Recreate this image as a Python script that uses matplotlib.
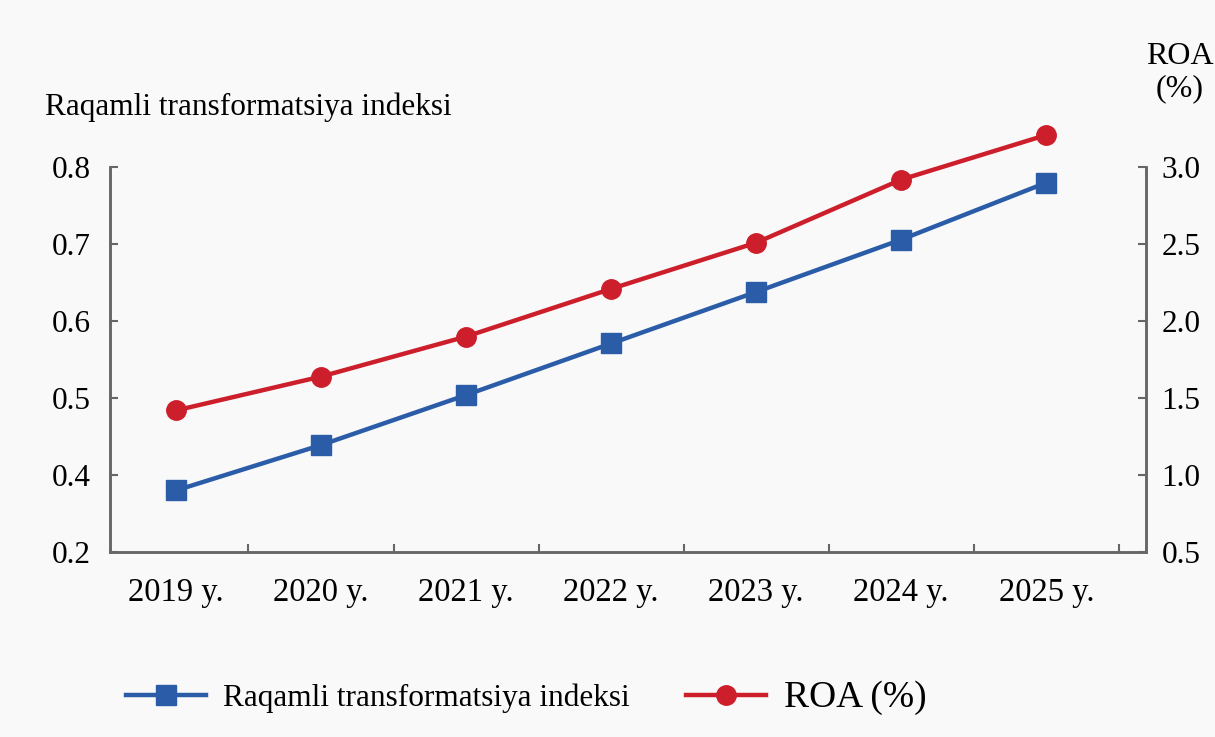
import matplotlib.pyplot as plt
import numpy as np

plt.rcParams['font.family'] = ['Liberation Serif', 'DejaVu Serif']

years = ['2019 y.', '2020 y.', '2021 y.', '2022 y.', '2023 y.', '2024 y.', '2025 y.']
index_vals = [0.380, 0.439, 0.504, 0.571, 0.638, 0.706, 0.780]
roa_vals = [1.42, 1.64, 1.90, 2.21, 2.51, 2.92, 3.21]

left_ticks = [0.3, 0.4, 0.5, 0.6, 0.7, 0.8]
left_labels = ['0.2', '0.4', '0.5', '0.6', '0.7', '0.8']
right_ticks = [0.5, 1.0, 1.5, 2.0, 2.5, 3.0]

blue = '#2b5ca8'
red = '#cc1f2b'
spine_col = '#666666'
bg = '#f9f9f9'

fig = plt.figure(figsize=(12.15, 7.37), dpi=100, facecolor=bg)
ax = fig.add_axes([0.0905, 0.251, 0.853, 0.522])
ax.set_facecolor(bg)
ax2 = ax.twinx()

x = np.arange(len(years))

l1, = ax.plot(x, index_vals, color=blue, lw=3.2, marker='s', ms=14,
              label='Raqamli transformatsiya indeksi', zorder=3, clip_on=False)
l2, = ax2.plot(x, roa_vals, color=red, lw=3.2, marker='o', ms=14,
               label='ROA (%)', zorder=3, clip_on=False)

ax.set_xlim(-0.455, 6.69)
ax.set_ylim(0.3, 0.8)
ax2.set_ylim(0.5, 3.0)

ax.set_yticks(left_ticks)
ax.set_yticklabels(left_labels)
ax2.set_yticks(right_ticks)
ax2.set_yticklabels([f'{v:.1f}' for v in right_ticks])

# category labels sit under points, tick marks between categories
ax.set_xticks(x + 0.5)
ax.set_xticklabels([])
ax.set_xticks(x, minor=True)
ax.set_xticklabels(years, minor=True)
ax.tick_params(axis='x', which='minor', length=0, pad=18, labelsize=23.5)
ax.tick_params(axis='x', which='major', direction='in', length=6,
               color=spine_col, width=1.5)

ax.tick_params(axis='y', direction='in', length=6, width=1.5, color=spine_col,
               pad=14, labelsize=22.5)
ax2.tick_params(axis='y', direction='in', length=6, width=1.5, color=spine_col,
                pad=11, labelsize=22.5)

for a in (ax, ax2):
    a.spines['top'].set_visible(False)
    for s in ('left', 'right', 'bottom'):
        a.spines[s].set_color(spine_col)
        a.spines[s].set_linewidth(1.8)

fig.text(45 / 1215, 1 - 107 / 737, 'Raqamli transformatsiya indeksi',
         fontsize=22.5, ha='left', va='center')
fig.text(1180 / 1215, 1 - 73 / 737, 'ROA\n(%)', fontsize=23,
         ha='center', va='center', linespacing=1.15)

leg = fig.legend(handles=[l1, l2], loc='center', bbox_to_anchor=(0.433, 0.054),
                 ncol=2, frameon=False, fontsize=22.5, handlelength=2.55,
                 handletextpad=0.57, columnspacing=1.8)
leg.get_texts()[1].set_fontsize(27)

fig.savefig('out.png', dpi=100, facecolor=bg)
